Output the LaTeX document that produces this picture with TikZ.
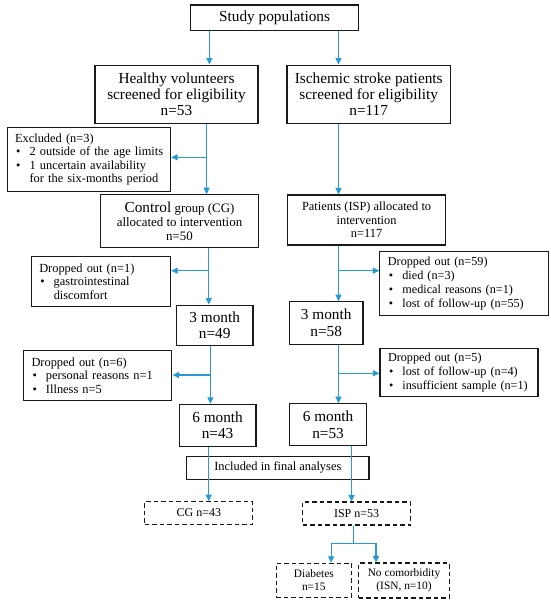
\documentclass[tikz,border=0pt]{standalone}
\usepackage{fontspec}
\setmainfont{Liberation Serif}
\usetikzlibrary{arrows.meta}
\definecolor{arr}{RGB}{38,153,214}
\newcommand{\bitem}[1]{\makebox[14.5pt][l]{\hspace{1pt}•}\mbox{#1}}
\newcommand{\bcont}{\hspace*{14.5pt}}
\begin{document}
\begin{tikzpicture}[x=1pt,y=-1pt,
  box/.style={draw=black!90, line width=1.1pt, inner sep=0pt, align=center},
  lbox/.style={box, align=left, inner xsep=8pt, inner ysep=0pt},
  dbox/.style={box, dash pattern=on 4.5pt off 3pt},
  conn/.style={draw=arr, line width=1.2pt},
  arrow/.style={conn, -{Triangle[length=6.5pt,width=6pt]}},
  big/.style={font=\fontsize{15.3}{16.4}\selectfont},
  mid/.style={font=\fontsize{12.4}{13.6}\selectfont},
  sml/.style={font=\fontsize{12.2}{13.8}\selectfont},
  tiny/.style={font=\fontsize{11.4}{13}\selectfont},
]
\useasboundingbox (0,0) rectangle (550,605);

% boxes
\node[box,big,minimum width=168.3pt,minimum height=25.7pt] (study) at (274.6,17.8) {Study populations};
\node[box,big,minimum width=163pt,minimum height=58.3pt] (hv) at (176.5,94.2) {Healthy volunteers\\screened for eligibility\\n=53};
\node[box,big,minimum width=163.4pt,minimum height=58.3pt] (isc) at (368.7,94.2) {Ischemic stroke patients\\screened for eligibility\\n=117};
\node[lbox,mid,text width=147.5pt,minimum height=64.4pt] (excl) at (88.8,159.5) {Excluded (n=3)\\
  \bitem{2 outside of the age limits}\\
  \bitem{1 uncertain availability}\\
  \bcont for the six-months period};
\node[box,font=\fontsize{12.9}{14}\selectfont,minimum width=157.5pt,minimum height=53pt] (cg) at (179.5,221.2) {{\fontsize{15.3}{16}\selectfont Control} group (CG)\\allocated to intervention\\n=50};
\node[box,font=\fontsize{12.4}{13.5}\selectfont,minimum width=157.9pt,minimum height=50pt] (pat) at (366.6,220) {Patients (ISP) allocated to\\intervention\\n=117};
\node[lbox,mid,text width=123.3pt,minimum height=49.3pt] (do1) at (100.9,281.4) {Dropped out (n=1)\\
  \bitem{gastrointestinal}\\
  \bcont discomfort};
\node[box,big,minimum width=76.5pt,minimum height=40.3pt] (m3l) at (214.7,325.2) {3 month\\n=49};
\node[lbox,sml,text width=153pt,minimum height=64.7pt] (do59) at (464.4,283.4) {Dropped out (n=59)\\
  \bitem{died (n=3)}\\
  \bitem{medical reasons (n=1)}\\
  \bitem{lost of follow-up (n=55)}};
\node[box,big,minimum width=73.6pt,minimum height=42.3pt] (m3r) at (326.2,322.9) {3 month\\n=58};
\node[lbox,mid,text width=132.4pt,minimum height=50.7pt] (do6) at (97.7,375.4) {Dropped out (n=6)\\
  \bitem{personal reasons n=1}\\
  \bitem{Illness n=5}};
\node[lbox,sml,text width=142pt,minimum height=48.4pt] (do5) at (459,372.5) {Dropped out (n=5)\\
  \bitem{lost of follow-up (n=4)}\\
  \bitem{insufficient sample (n=1)}};
\node[box,big,minimum width=76.8pt,minimum height=42.4pt] (m6l) at (217.6,425.5) {6 month\\n=43};
\node[box,big,minimum width=76.8pt,minimum height=42pt] (m6r) at (328.1,424.7) {6 month\\n=53};
\node[box,mid,minimum width=182.4pt,minimum height=22.3pt] (incl) at (277.8,467.9) {Included in final analyses};
\node[dbox,font=\fontsize{12}{13}\selectfont,minimum width=108pt,minimum height=22.3pt] (cgf) at (198.9,512.9) {CG n=43};
\node[dbox,font=\fontsize{12}{13}\selectfont,minimum width=108.2pt,minimum height=23pt] (ispf) at (356.6,513.5) {ISP n=53};
\node[dbox,tiny,minimum width=75.5pt,minimum height=34pt] (diab) at (313.8,580.3) {Diabetes\\n=15};
\node[dbox,tiny,minimum width=90.5pt,minimum height=35pt] (nocom) at (404,580.5) {No comorbidity\\(ISN, n=10)};

% trunk coordinates
\coordinate (L1) at (209.4,0);
\coordinate (L2) at (206.6,0);
\coordinate (L3) at (208.7,0);
\coordinate (L4) at (210.4,0);
\coordinate (L5) at (208.7,0);
\coordinate (R1) at (338.5,0);
\coordinate (R5) at (351.5,0);
\coordinate (R6) at (353.2,0);
\coordinate (bE) at (206.6,157.3);
\coordinate (b1) at (208.7,270.7);
\coordinate (b59) at (338.5,270.7);
\coordinate (b6) at (210.4,375);
\coordinate (b5) at (338.5,373.3);
\coordinate (fork) at (353.2,543.3);
\coordinate (fl) at (331.1,543.3);
\coordinate (fr) at (376,543.3);

% connectors
\draw[arrow] (study.south -| L1) -- (hv.north -| L1);
\draw[arrow] (study.south -| R1) -- (isc.north -| R1);
\draw[arrow] (hv.south -| L2) -- (cg.north -| L2);
\draw[arrow] (bE) -- (bE -| excl.east);
\draw[arrow] (isc.south -| R1) -- (pat.north -| R1);
\draw[arrow] (cg.south -| L3) -- (m3l.north -| L3);
\draw[arrow] (b1) -- (b1 -| do1.east);
\draw[arrow] (pat.south -| R1) -- (m3r.north -| R1);
\draw[arrow] (b59) -- (b59 -| do59.west);
\draw[arrow] (m3l.south -| L4) -- (m6l.north -| L4);
\draw[arrow] (b6) -- (b6 -| do6.east);
\draw[arrow] (m3r.south -| R1) -- (m6r.north -| R1);
\draw[arrow] (b5) -- (b5 -| do5.west);
\draw[arrow] (m6l.south -| L5) -- (cgf.north -| L5);
\draw[arrow] (m6r.south -| R5) -- (ispf.north -| R5);
\draw[conn] (ispf.south -| R6) -- (fork);
\draw[conn] (fl) -- (fr);
\draw[arrow] (fl) -- (diab.north -| fl);
\draw[arrow] (fr) -- (nocom.north -| fr);
\end{tikzpicture}
\end{document}
